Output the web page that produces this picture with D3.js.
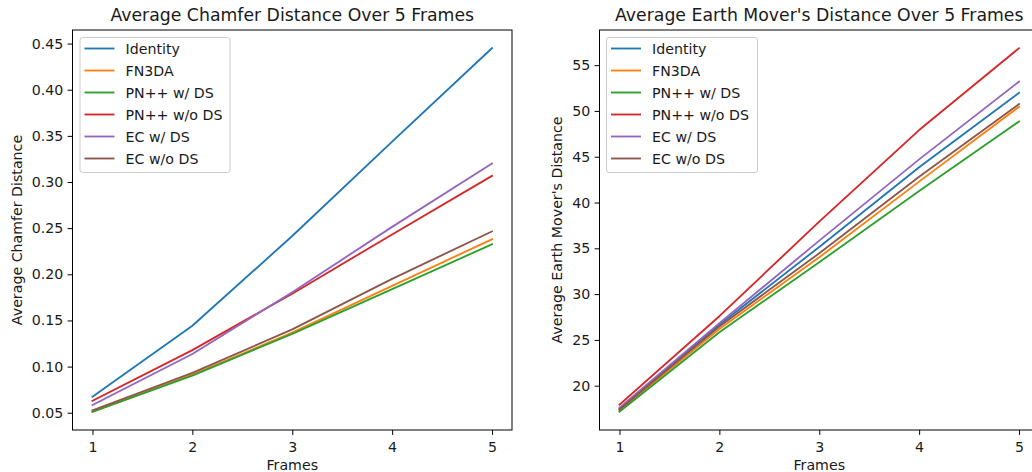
<!DOCTYPE html>
<html>
<head>
<meta charset="utf-8">
<script src="https://cdn.jsdelivr.net/npm/d3@7/dist/d3.min.js"></script>
<style>
  html, body { margin: 0; padding: 0; background: #fff; }
  svg { display: block; }
  text { font-family: "DejaVu Sans", sans-serif; fill: #1a1a1a; }
</style>
</head>
<body>
<svg id="chart" width="1032" height="472"></svg>
<script>
// ---- data ----
const frames = [1, 2, 3, 4, 5];
const seriesNames = ["Identity", "FN3DA", "PN++ w/ DS", "PN++ w/o DS", "EC w/ DS", "EC w/o DS"];
const seriesColors = ["#1f77b4", "#ff7f0e", "#2ca02c", "#d62728", "#9467bd", "#8c564b"];

const chamferIdentity = [0.0673, 0.1442, 0.2415, 0.3438, 0.445];
const chamferFN3DA    = [0.0510, 0.0912, 0.1368, 0.1874, 0.238];
const chamferPNwDS    = [0.0510, 0.0902, 0.1355, 0.1840, 0.2325];
const chamferPNwoDS   = [0.0630, 0.1179, 0.1790, 0.2432, 0.3067];
const chamferECwDS    = [0.0583, 0.1136, 0.1806, 0.2514, 0.320];
const chamferECwoDS   = [0.0526, 0.0933, 0.1403, 0.1951, 0.2465];

const emdIdentity = [17.50, 26.65, 35.15, 43.84, 51.98];
const emdFN3DA    = [17.30, 26.20, 34.02, 42.28, 50.46];
const emdPNwDS    = [17.15, 25.84, 33.48, 41.26, 48.85];
const emdPNwoDS   = [17.93, 27.59, 37.92, 47.91, 56.85];
const emdECwDS    = [17.60, 26.83, 35.84, 44.71, 53.20];
const emdECwoDS   = [17.40, 26.47, 34.46, 42.82, 50.75];

const chamferTicks = [0.05, 0.10, 0.15, 0.20, 0.25, 0.30, 0.35, 0.40, 0.45];
const emdTicks = [20, 25, 30, 35, 40, 45, 50, 55];

const chartTitles = ["Average Chamfer Distance Over 5 Frames", "Average Earth Mover's Distance Over 5 Frames"];
const yLabels = ["Average Chamfer Distance", "Average Earth Mover's Distance"];
const xLabel = "Frames";

// ---- drawing ----
const svg = d3.select("#chart");
const TICK = 4.9, FS = 14.2, TFS = 17.3;

function drawPanel(cfg) {
  const { left, right, top, bottom, series, ticks, fmt, title, ylabel, ylabelX, legendX, legendW } = cfg;
  const g = svg.append("g");
  const x = d3.scaleLinear().domain([0.8, 5.2]).range([left, right]);
  const all = series.flat();
  const mn = d3.min(all), mx = d3.max(all), pad = (mx - mn) * 0.05;
  const y = d3.scaleLinear().domain([mn - pad, mx + pad]).range([bottom, top]);

  // lines
  const line = d3.line().x((d, i) => x(frames[i])).y(d => y(d));
  series.forEach((s, k) => {
    g.append("path").datum(s).attr("d", line)
      .attr("fill", "none").attr("stroke", seriesColors[k])
      .attr("stroke-width", 1.85).attr("stroke-linejoin", "round").attr("stroke-linecap", "square");
  });

  // axes
  const xa = g.append("g").attr("transform", `translate(0,${bottom})`)
    .call(d3.axisBottom(x).tickValues(frames).tickFormat(d3.format("d")).tickSizeInner(TICK).tickSizeOuter(0).tickPadding(7));
  const ya = g.append("g").attr("transform", `translate(${left},0)`)
    .call(d3.axisLeft(y).tickValues(ticks).tickFormat(fmt).tickSizeInner(TICK).tickSizeOuter(0).tickPadding(4.3));
  [xa, ya].forEach(a => {
    a.select(".domain").remove();
    a.selectAll(".tick line").attr("stroke", "#000").attr("stroke-width", 1);
    a.selectAll(".tick text").attr("font-size", FS).attr("fill", "#1a1a1a")
      .style("font-family", "'DejaVu Sans', sans-serif");
  });

  // frame
  g.append("rect").attr("x", left).attr("y", top).attr("width", right - left).attr("height", bottom - top)
    .attr("fill", "none").attr("stroke", "#000").attr("stroke-width", 1);

  // title & labels
  g.append("text").attr("x", (left + right) / 2).attr("y", 20.5).attr("text-anchor", "middle")
    .attr("font-size", TFS).text(title);
  g.append("text").attr("x", (left + right) / 2).attr("y", 470.3).attr("text-anchor", "middle")
    .attr("font-size", FS).text(xLabel);
  g.append("text").attr("transform", `translate(${ylabelX},${(top + bottom) / 2}) rotate(-90)`)
    .attr("text-anchor", "middle").attr("font-size", FS).text(ylabel);

  // legend
  const lg = g.append("g");
  lg.append("rect").attr("x", legendX).attr("y", 37.5).attr("width", legendW).attr("height", 135)
    .attr("rx", 2.5).attr("fill", "#fff").attr("fill-opacity", 0.8).attr("stroke", "#cccccc").attr("stroke-width", 1);
  seriesNames.forEach((name, k) => {
    const cy = 48.5 + k * 22;
    lg.append("line").attr("x1", legendX + 4.5).attr("x2", legendX + 34.5).attr("y1", cy).attr("y2", cy)
      .attr("stroke", seriesColors[k]).attr("stroke-width", 1.85);
    lg.append("text").attr("x", legendX + 45.5).attr("y", cy + 5.6).attr("font-size", FS).text(name);
  });
}

drawPanel({
  left: 72.5, right: 512, top: 30, bottom: 430,
  series: [chamferIdentity, chamferFN3DA, chamferPNwDS, chamferPNwoDS, chamferECwDS, chamferECwoDS],
  ticks: chamferTicks, fmt: d3.format(".2f"),
  title: chartTitles[0], ylabel: yLabels[0], ylabelX: 21.5,
  legendX: 80, legendW: 150
});

drawPanel({
  left: 599.5, right: 1039, top: 30, bottom: 430,
  series: [emdIdentity, emdFN3DA, emdPNwDS, emdPNwoDS, emdECwDS, emdECwoDS],
  ticks: emdTicks, fmt: d3.format("d"),
  title: chartTitles[1], ylabel: yLabels[1], ylabelX: 561.5,
  legendX: 606.5, legendW: 151
});
</script>
</body>
</html>
